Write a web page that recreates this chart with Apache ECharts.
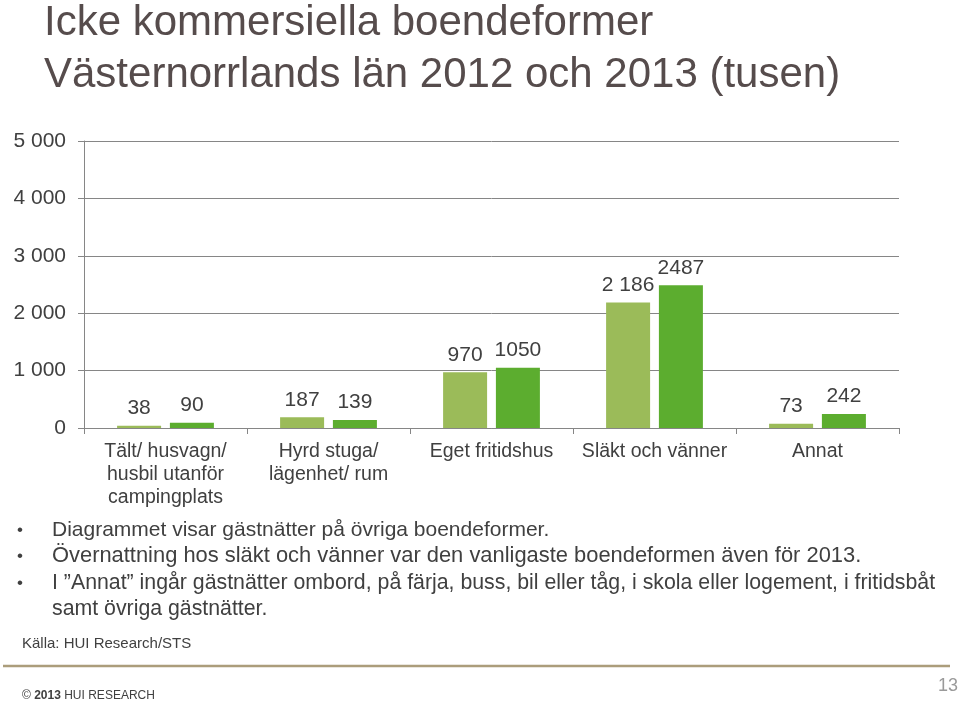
<!DOCTYPE html>
<html>
<head>
<meta charset="utf-8">
<script src="https://cdn.jsdelivr.net/npm/echarts@6/dist/echarts.min.js"></script>
<style>
html,body{margin:0;padding:0;background:#fff;}
#chart{width:960px;height:703px;}
</style>
</head>
<body>
<div id="chart"></div>
<script>
var categories = ['Tält/ husvagn/\nhusbil utanför\ncampingplats', 'Hyrd stuga/\nlägenhet/ rum', 'Eget fritidshus', 'Släkt och vänner', 'Annat'];
var values2012 = [38, 187, 970, 2186, 73];
var values2013 = [90, 139, 1050, 2487, 242];
var labels2012 = ['38', '187', '970', '2 186', '73'];
var labels2013 = ['90', '139', '1050', '2487', '242'];
var yTickLabels = ['0', '1 000', '2 000', '3 000', '4 000', '5 000'];
var titleLines = ['Icke kommersiella boendeformer', 'Västernorrlands län 2012 och 2013 (tusen)'];
var bullets = [
  'Diagrammet visar gästnätter på övriga boendeformer.',
  'Övernattning hos släkt och vänner var den vanligaste boendeformen även för 2013.',
  'I \u201dAnnat\u201d ingår gästnätter ombord, på färja, buss, bil eller tåg, i skola eller logement, i fritidsbåt',
  'samt övriga gästnätter.'
];
var sourceText = 'Källa: HUI Research/STS';
var pageNumber = '13';

var FONT = 'Liberation Sans, Arial, sans-serif';
var chart = echarts.init(document.getElementById('chart'));

var graphics = [];
graphics.push({type:'text', left:44, top:2, style:{text:titleLines[0], font:'42px ' + FONT, fill:'#564c4c'}});
graphics.push({type:'text', left:44, top:54, style:{text:titleLines[1], font:'42px ' + FONT, fill:'#564c4c'}});
var bulletY = [530, 556, 583, 609];
var bulletSizes = [21, 21.9, 21.3, 21.3];
bullets.forEach(function(t, i){
  if (i < 3) {
    graphics.push({type:'text', x:17, y:bulletY[i], style:{text:'\u2022', font:'17px ' + FONT, fill:'#404040', textVerticalAlign:'middle'}});
  }
  graphics.push({type:'text', x:52, y:bulletY[i], style:{text:t, font:bulletSizes[i] + 'px ' + FONT, fill:'#404040', textVerticalAlign:'middle'}});
});
graphics.push({type:'text', x:22, y:644, style:{text:sourceText, font:'15px ' + FONT, fill:'#404040', textVerticalAlign:'middle'}});
graphics.push({type:'line', shape:{x1:3, y1:666, x2:950, y2:666}, style:{stroke:'#ab9d7b', lineWidth:2.5}});
graphics.push({type:'text', x:22, y:696, style:{
  text:'{a|© }{b|2013}{a| HUI RESEARCH}',
  textVerticalAlign:'middle',
  rich:{
    a:{fontSize:12, fontFamily:FONT, fill:'#404040', color:'#404040'},
    b:{fontSize:12, fontFamily:FONT, fontWeight:'bold', fill:'#404040', color:'#404040'}
  }
}});
graphics.push({type:'text', x:958, y:686, style:{text:pageNumber, font:'18px ' + FONT, fill:'#9a9a9a', textAlign:'right', textVerticalAlign:'middle'}});

var labelStyle = function(arr){
  return {
    show:true, position:'top', distance:7,
    fontSize:21, fontFamily:FONT, color:'#404040',
    formatter:function(p){ return arr[p.dataIndex]; }
  };
};

chart.setOption({
  animation:false,
  backgroundColor:'#ffffff',
  textStyle:{fontFamily:FONT},
  grid:{left:84, right:61, top:141, bottom:275, containLabel:false},
  xAxis:{
    type:'category',
    data:categories,
    axisLine:{show:true, lineStyle:{color:'#868686', width:1}},
    axisTick:{show:true, length:6, lineStyle:{color:'#868686'}},
    axisLabel:{fontSize:19.5, fontFamily:FONT, color:'#404040', lineHeight:23, margin:12, interval:0}
  },
  yAxis:{
    type:'value', min:0, max:5000, interval:1000,
    axisLine:{show:true, lineStyle:{color:'#868686', width:1}},
    axisTick:{show:true, length:6, lineStyle:{color:'#868686'}},
    splitLine:{show:true, lineStyle:{color:'#868686', width:1}},
    axisLabel:{fontSize:21, fontFamily:FONT, color:'#404040', margin:18,
      formatter:function(v){ return yTickLabels[Math.round(v/1000)]; }}
  },
  series:[
    {name:'2012', type:'bar', data:values2012, barWidth:44, barGap:'20%',
     itemStyle:{color:'#9bbb59'}, label:labelStyle(labels2012)},
    {name:'2013', type:'bar', data:values2013, barWidth:44, barGap:'20%',
     itemStyle:{color:'#5cad2f'}, label:labelStyle(labels2013)}
  ],
  graphic:graphics
});
</script>
</body>
</html>
